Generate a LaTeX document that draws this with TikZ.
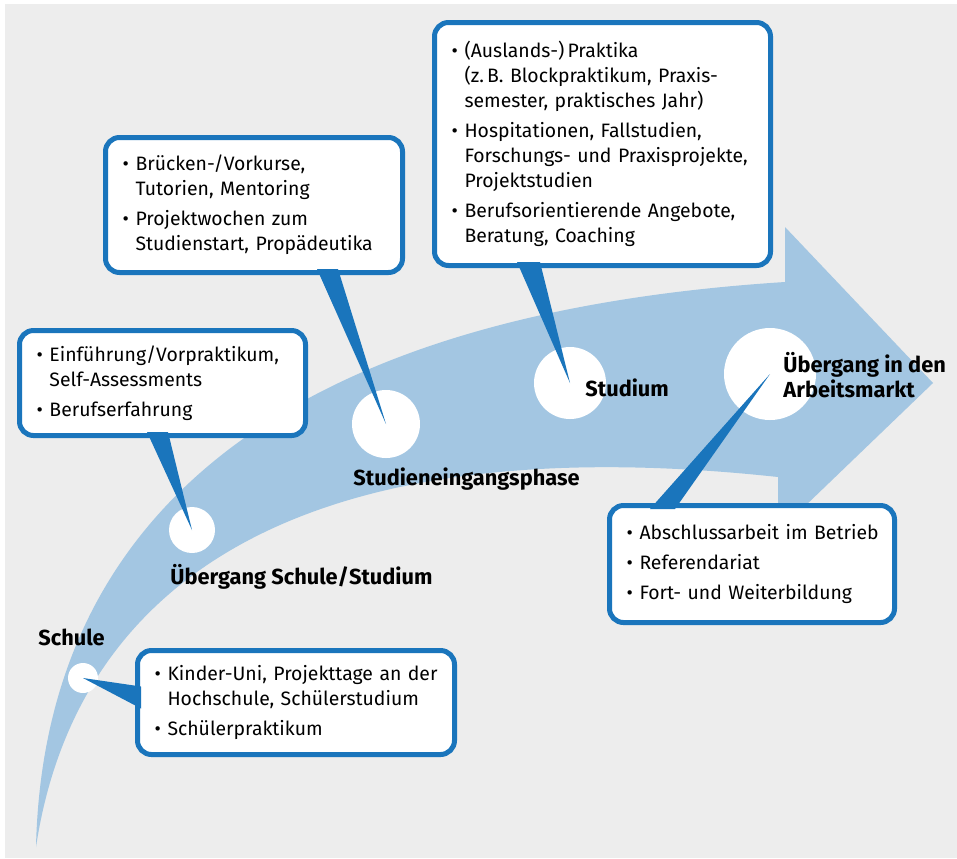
\documentclass[tikz,border=0pt]{standalone}
\usepackage{fontspec}
\setmainfont{Fira Sans}
\definecolor{bggrey}{HTML}{EDEDED}
\definecolor{arrowblue}{HTML}{A3C6E2}
\definecolor{darkblue}{HTML}{1A75BC}
\newcommand{\itm}[1]{\hyphenpenalty=10000\relax\noindent\hangindent=9pt\hangafter=1\makebox[9pt][l]{\hspace{2.5pt}\textbullet}#1\par}
\tikzset{
  infobox/.style={draw=darkblue, line width=2.5pt, fill=white, rounded corners=7pt,
    anchor=north west, inner xsep=6pt, inner ysep=0pt, align=left,
    font=\fontsize{9.7}{12.5}\selectfont\setlength{\parskip}{2.5pt}},
  dot/.style={circle, fill=white, inner sep=0pt},
  stage/.style={anchor=west, inner sep=0pt, font=\fontsize{10.9}{12.5}\selectfont\bfseries},
  pointer/.style={fill=darkblue}
}
\begin{document}
\begin{tikzpicture}[x=0.5pt, y=-0.5pt]
    \useasboundingbox (0,0) rectangle (957,858);
    \fill[bggrey] (5,4) rectangle (957,858);
    \fill[arrowblue] (36,847) .. controls (42,590) and (190,320) .. (785,282)
        -- (785,227) -- (933,383) -- (778,532) -- (778,477)
        .. controls (250,420) and (70,620) .. (36,847) -- cycle;

    \node[dot, minimum size=15pt] (c1) at (83,678) {};
    \node[dot, minimum size=23pt] (c2) at (192,530) {};
    \node[dot, minimum size=34pt] (c3) at (386,424) {};
    \node[dot, minimum size=36pt] (c4) at (570,383) {};
    \node[dot, minimum size=46pt] (c5) at (770,374) {};

    \node[infobox, text width=146.5pt, minimum height=52pt] (b1) at (135,648)
        {\itm{Kinder-Uni, Projekttage an der\newline Hochschule, Schülerstudium}\itm{Schülerpraktikum}};
    \node[infobox, text width=131pt, minimum height=52.5pt] (b2) at (17,328)
        {\itm{Einführung/Vorpraktikum,\newline Self-Assessments}\itm{Berufserfahrung}};
    \node[infobox, text width=136.5pt, minimum height=67.5pt] (b3) at (103,135)
        {\itm{Brücken-/Vorkurse,\newline Tutorien, Mentoring}\itm{Projektwochen zum\newline Studienstart, Propädeutika}};
    \node[infobox, text width=156pt, minimum height=121.5pt] (b4) at (432,20)
        {\itm{(Auslands-)\,Praktika\newline (z.\,B. Blockpraktikum, Praxis-\newline semester, praktisches Jahr)}\itm{Hospitationen, Fallstudien,\newline Forschungs- und Praxisprojekte,\newline Projektstudien}\itm{Berufsorientierende Angebote,\newline Beratung, Coaching}};
    \node[infobox, text width=130.5pt, minimum height=58.5pt] (b5) at (607,503)
        {\itm{Abschlussarbeit im Betrieb}\itm{Referendariat}\itm{Fort- und Weiterbildung}};

    \fill[pointer] (c1.center) -- ([xshift=3pt, yshift=8pt]b1.west) -- ([xshift=3pt, yshift=-3pt]b1.west) -- cycle;
    \fill[pointer] (c2.center) -- ([xshift=-7.75pt, yshift=3pt]b2.south) -- ([xshift=2.75pt, yshift=3pt]b2.south) -- cycle;
    \fill[pointer] (c3.center) -- ([xshift=31.5pt, yshift=3pt]b3.south) -- ([xshift=42pt, yshift=3pt]b3.south) -- cycle;
    \fill[pointer] (c4.center) -- ([xshift=-42.75pt, yshift=3pt]b4.south) -- ([xshift=-31.25pt, yshift=3pt]b4.south) -- cycle;
    \fill[pointer] (c5.center) -- ([xshift=-51pt, yshift=-3pt]b5.north) -- ([xshift=-38.5pt, yshift=-3pt]b5.north) -- cycle;

    \node[stage] (l1) at (38,637) {Schule};
    \node[stage] (l2) at (170,577) {Übergang Schule/Studium};
    \node[stage] (l3) at (353,479) {Studieneingangsphase};
    \node[stage] (l4) at (585,388) {Studium};
    \node[stage, align=left] (l5) at (783,375) {Übergang in den\\Arbeitsmarkt};
\end{tikzpicture}
\end{document}
